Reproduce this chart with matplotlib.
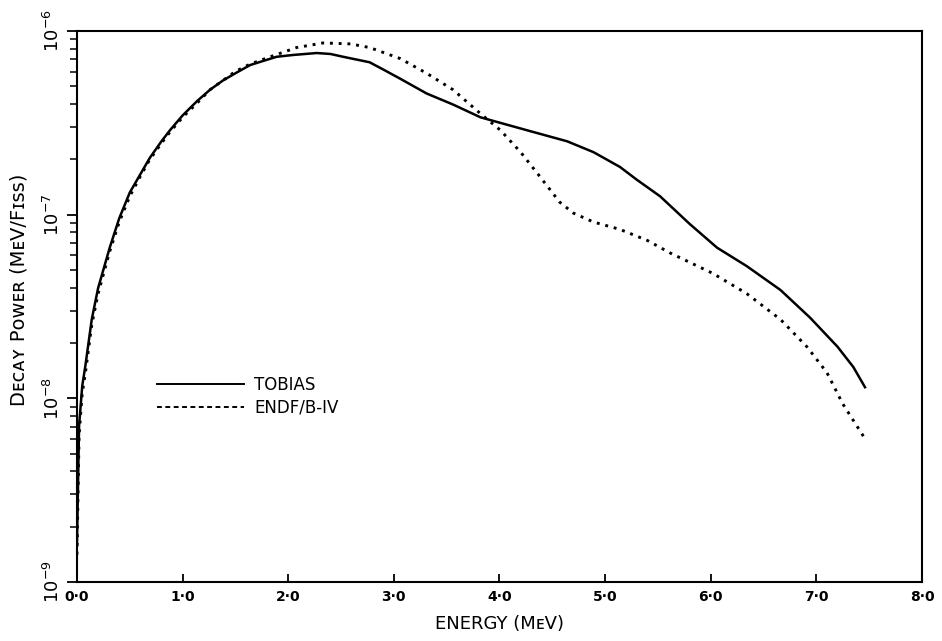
import matplotlib
matplotlib.use("Agg")
import matplotlib.pyplot as plt
from matplotlib.lines import Line2D
from matplotlib.ticker import FixedLocator, LogLocator, NullFormatter, NullLocator

# energy (MeV) and decay power (MeV/fiss)
tobias_energy = [0.00, 0.02, 0.05, 0.08, 0.14, 0.20, 0.31, 0.40, 0.50, 0.60,
                 0.69, 0.80, 0.88, 1.00, 1.14, 1.26, 1.38, 1.50, 1.64, 1.78,
                 1.89, 2.05, 2.27, 2.40, 2.52, 2.77, 2.90, 3.06, 3.31, 3.56,
                 3.82, 4.01, 4.32, 4.64, 4.89, 5.14, 5.30, 5.52, 5.80, 6.06,
                 6.34, 6.66, 6.94, 7.20, 7.35, 7.46]
tobias_power = [1.58e-9, 7.1e-9, 1.17e-8, 1.51e-8, 2.69e-8, 3.98e-8, 6.61e-8,
                9.55e-8, 1.32e-7, 1.66e-7, 2.04e-7, 2.51e-7, 2.88e-7, 3.47e-7,
                4.17e-7, 4.79e-7, 5.37e-7, 5.89e-7, 6.53e-7, 6.92e-7, 7.24e-7,
                7.41e-7, 7.59e-7, 7.50e-7, 7.24e-7, 6.76e-7, 6.17e-7, 5.50e-7,
                4.57e-7, 3.98e-7, 3.39e-7, 3.16e-7, 2.82e-7, 2.51e-7, 2.19e-7,
                1.82e-7, 1.55e-7, 1.26e-7, 8.91e-8, 6.61e-8, 5.25e-8, 3.89e-8,
                2.75e-8, 1.91e-8, 1.48e-8, 1.15e-8]

endf_energy = [0.00, 0.02, 0.05, 0.08, 0.14, 0.20, 0.31, 0.40, 0.50, 0.60,
               0.69, 0.80, 0.88, 1.00, 1.14, 1.26, 1.38, 1.50, 1.64, 1.83,
               2.08, 2.33, 2.59, 2.77, 3.06, 3.31, 3.56, 3.82, 4.01, 4.20,
               4.38, 4.57, 4.70, 4.89, 5.14, 5.40, 5.62, 6.02, 6.34, 6.66,
               6.91, 7.10, 7.25, 7.46]
endf_power = [1.41e-9, 6.31e-9, 1.07e-8, 1.38e-8, 2.51e-8, 3.72e-8, 6.31e-8,
              9.12e-8, 1.26e-7, 1.62e-7, 2.00e-7, 2.45e-7, 2.82e-7, 3.39e-7,
              4.07e-7, 4.79e-7, 5.37e-7, 6.03e-7, 6.61e-7, 7.24e-7, 8.13e-7,
              8.61e-7, 8.51e-7, 8.13e-7, 7.08e-7, 5.89e-7, 4.79e-7, 3.55e-7,
              2.88e-7, 2.19e-7, 1.62e-7, 1.17e-7, 1.02e-7, 9.12e-8, 8.32e-8,
              7.24e-8, 6.17e-8, 4.79e-8, 3.72e-8, 2.69e-8, 1.91e-8, 1.38e-8,
              9.33e-9, 6.03e-9]

x_ticks = [0, 1, 2, 3, 4, 5, 6, 7, 8]
x_tick_labels = ["0·0", "1·0", "2·0", "3·0", "4·0", "5·0", "6·0", "7·0", "8·0"]
y_ticks = [1e-9, 1e-8, 1e-7, 1e-6]
y_tick_labels = [r"$10^{-9}$", r"$10^{-8}$", r"$10^{-7}$", r"$10^{-6}$"]

plt.rcParams["font.family"] = ["DejaVu Sans"]

fig = plt.figure(figsize=(9.42, 6.41), dpi=100)
ax = fig.add_axes([0.0817, 0.092, 0.8971, 0.8596])

ax.plot(tobias_energy, tobias_power, color="black", lw=1.8)
ax.plot(endf_energy, endf_power, color="black", lw=2.1,
        linestyle=(0, (1, 2)))

ax.set_yscale("log")
ax.set_xlim(0, 8)
ax.set_ylim(1e-9, 1e-6)

ax.xaxis.set_major_locator(FixedLocator(x_ticks))
ax.set_xticklabels(x_tick_labels, fontsize=10, fontweight="bold")
ax.xaxis.set_minor_locator(NullLocator())
ax.tick_params(axis="x", direction="in", length=6, width=1.3, pad=6)

ax.yaxis.set_major_locator(FixedLocator(y_ticks))
ax.set_yticklabels(y_tick_labels, fontsize=13, rotation=90, va="center")
ax.yaxis.set_minor_locator(LogLocator(base=10, subs=range(2, 10)))
ax.yaxis.set_minor_formatter(NullFormatter())
ax.tick_params(axis="y", which="major", direction="out", length=7, width=1.3, pad=3)
ax.tick_params(axis="y", which="minor", direction="out", length=5, width=1.1)

for side in ax.spines.values():
    side.set_linewidth(1.5)

ax.set_xlabel("ENERGY (MᴇV)", fontsize=13, labelpad=8)
ax.set_ylabel("Dᴇᴄᴀʏ Pᴏᴡᴇʀ (MᴇV/Fɪss)", fontsize=14)
ax.yaxis.set_label_coords(-0.057, 0.53)

handles = [Line2D([], [], color="black", lw=1.4),
           Line2D([], [], color="black", lw=1.4, linestyle=(0, (2.5, 1.8)))]
ax.legend(handles, ["TOBIAS", "ENDF/B-IV"], loc="center left",
          bbox_to_anchor=(0.095, 0.337), frameon=False, fontsize=12,
          handlelength=5.2, handletextpad=0.6, labelspacing=0.25,
          borderpad=0, borderaxespad=0)

fig.savefig("out.png", dpi=100)
